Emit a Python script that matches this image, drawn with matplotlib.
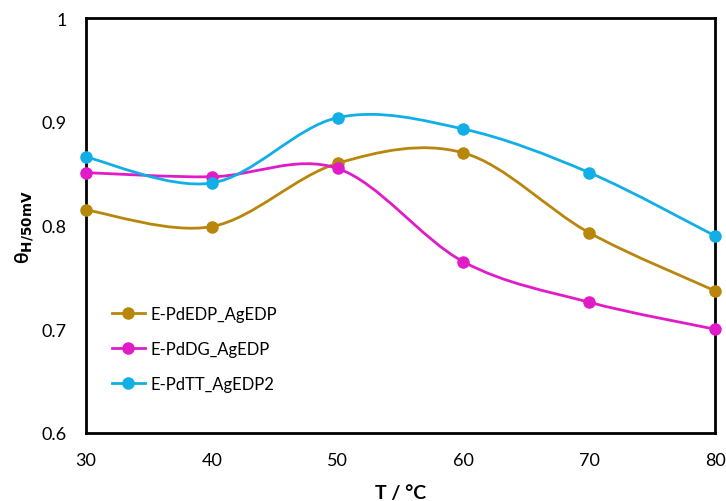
import numpy as np
import matplotlib
matplotlib.use('Agg')
import matplotlib.pyplot as plt
from matplotlib.path import Path
from matplotlib.patches import PathPatch

plt.rcParams['font.family'] = ['Lato', 'DejaVu Sans']

temps = [30, 40, 50, 60, 70, 80]
pdedp = [0.815, 0.799, 0.860, 0.870, 0.793, 0.737]
pddg = [0.851, 0.847, 0.855, 0.765, 0.726, 0.700]
pdtt = [0.866, 0.841, 0.904, 0.893, 0.851, 0.790]

names = ['E-PdEDP_AgEDP', 'E-PdDG_AgEDP', 'E-PdTT_AgEDP2']
colors = ['#B8860B', '#E21BC8', '#12AEE6']


def smooth_path(x, y):
    # excel style smoothed line: bezier through the points
    p = np.column_stack([x, y]).astype(float)
    n = len(p)
    verts = [p[0]]
    codes = [Path.MOVETO]
    for i in range(n - 1):
        p0 = p[i - 1] if i > 0 else p[i]
        p3 = p[i + 2] if i + 2 < n else p[i + 1]
        c1 = p[i] + (p[i + 1] - p0) / 6
        c2 = p[i + 1] - (p3 - p[i]) / 6
        verts += [c1, c2, p[i + 1]]
        codes += [Path.CURVE4] * 3
    return Path(verts, codes)


fig = plt.figure(figsize=(7.26, 5.02), dpi=100)
ax = fig.add_axes([0.1185, 0.1355, 0.8665, 0.8265])

for ys, c, lab in zip([pdedp, pddg, pdtt], colors, names):
    ax.add_patch(PathPatch(smooth_path(temps, ys), fill=False, edgecolor=c, lw=2))
    ax.plot(temps, ys, 'o', color=c, ms=8, zorder=3, clip_on=False)
    ax.plot([], [], '-o', color=c, lw=2, ms=8, label=lab)

ax.set_xlim(30, 80)
ax.set_ylim(0.6, 1.0)
ax.set_xticks(temps)
ax.set_yticks([0.6, 0.7, 0.8, 0.9, 1.0])
ax.set_yticklabels(['0.6', '0.7', '0.8', '0.9', '1'])
ax.tick_params(length=0, labelsize=13, pad=14)
for s in ax.spines.values():
    s.set_linewidth(2)
    s.set_color('black')

ax.set_xlabel('T / °C', fontsize=14, fontweight='bold', labelpad=11)
ax.set_ylabel(r'θ$_{\mathbf{H/50mV}}$', fontsize=14, fontweight='bold', labelpad=4)

ax.legend(loc='lower left', bbox_to_anchor=(0.017, 0.062), frameon=False,
          fontsize=12, handlelength=2.0, labelspacing=1.15, handletextpad=0.3)

plt.savefig('out.png')
